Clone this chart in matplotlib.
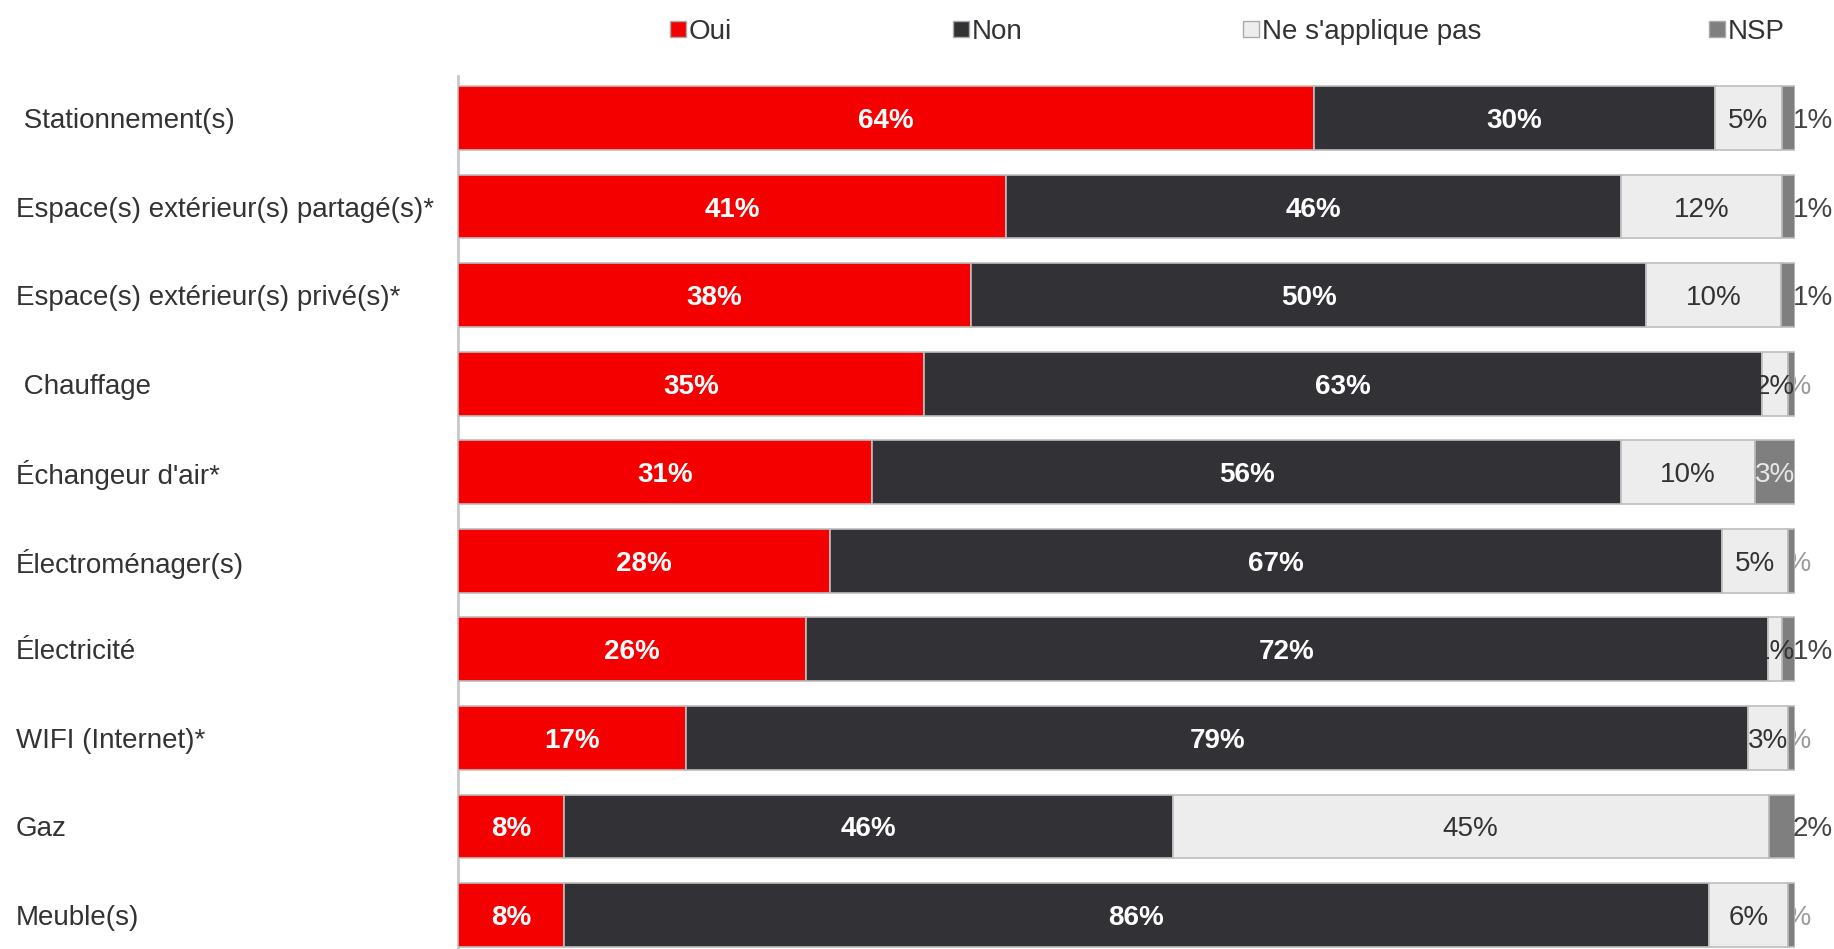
import numpy as np
import matplotlib
matplotlib.use("Agg")
import matplotlib.pyplot as plt
from matplotlib.patches import Rectangle

plt.rcParams['font.family'] = ['Liberation Sans', 'DejaVu Sans']

# ---------------- data ----------------
categories = [" Stationnement(s)", "Espace(s) extérieur(s) partagé(s)*",
              "Espace(s) extérieur(s) privé(s)*", " Chauffage", "Échangeur d'air*",
              "Électroménager(s)", "Électricité", "WIFI (Internet)*", "Gaz", "Meuble(s)"]
oui = [64, 41, 38, 35, 31, 28, 26, 17, 8, 8]
non = [30, 46, 50, 63, 56, 67, 72, 79, 46, 86]
nap = [5, 12, 10, 2, 10, 5, 1, 3, 45, 6]
nsp = [1, 1, 1, 0.5, 3, 0.5, 1, 0.5, 2, 0.5]
series_names = ["Oui", "Non", "Ne s'applique pas", "NSP"]

# ---------------- style ----------------
W, H = 1834, 949
colors = ['#F50000', '#323135', '#EDEDED', '#7F7F7F']
edge = '#BDBDBD'
label_colors = ['white', 'white', '#333333', '#E8E8E8']
label_weights = ['bold', 'bold', 'normal', 'normal']
FS = 20

fig = plt.figure(figsize=(W / 100, H / 100), dpi=100)
ax = fig.add_axes([458 / W, 0, (1795 - 458) / W, (949 - 76) / H])

data = np.array([oui, non, nap, nsp], dtype=float)
totals = data.sum(axis=0)
shares = data / totals * 100
y = np.arange(len(categories))
bar_h = 0.72

left = np.zeros(len(categories))
for k in range(4):
    ax.barh(y, shares[k], left=left, height=bar_h, color=colors[k],
            edgecolor=edge, linewidth=1.2, zorder=3)
    for i in range(len(categories)):
        v = data[k, i]
        txt = f"{v:.0f}%"
        cx = left[i] + shares[k, i] / 2
        if k < 3:
            ax.text(cx, y[i], txt, ha='center', va='center_baseline', fontsize=FS,
                    color=label_colors[k], fontweight=label_weights[k], zorder=5)
        else:
            if v >= 2.5:
                ax.text(cx, y[i], txt, ha='center', va='center_baseline', fontsize=FS,
                        color=label_colors[k], zorder=5)
            elif v >= 0.75:
                ax.text(99.85, y[i], txt, ha='left', va='center_baseline', fontsize=FS,
                        color='#444444', zorder=5, clip_on=False)
            else:
                ax.text(cx, y[i], txt, ha='center', va='center_baseline', fontsize=FS,
                        color='#9A9A9A', zorder=2, clip_on=False)
    left += shares[k]

ax.set_xlim(0, 100)
ax.set_ylim(9 + (949 - 915) / 88.6, -(118 - 76) / 88.6)
ax.set_xticks([])
ax.set_yticks(y)
ax.set_yticklabels(categories, fontsize=FS, color='#333333', ha='left')
ax.tick_params(axis='y', length=0, pad=(458 - 16) * 0.72)
for s in ['top', 'right', 'bottom']:
    ax.spines[s].set_visible(False)
ax.spines['left'].set_color('#C8C8C8')
ax.spines['left'].set_linewidth(2)

# ---------------- legend ----------------
leg_x = [670, 953, 1243, 1709]
leg_y = 29
sq = 16
for k, name in enumerate(series_names):
    x0 = leg_x[k]
    fig.patches.append(Rectangle((x0 / W, 1 - (leg_y + sq / 2) / H), sq / W, sq / H,
                                 transform=fig.transFigure, facecolor=colors[k],
                                 edgecolor='#AAAAAA', linewidth=1))
    fig.text((x0 + sq + 3) / W, 1 - leg_y / H, name, ha='left', va='center_baseline',
             fontsize=FS, color='#333333')

fig.savefig('out.png', dpi=100)
